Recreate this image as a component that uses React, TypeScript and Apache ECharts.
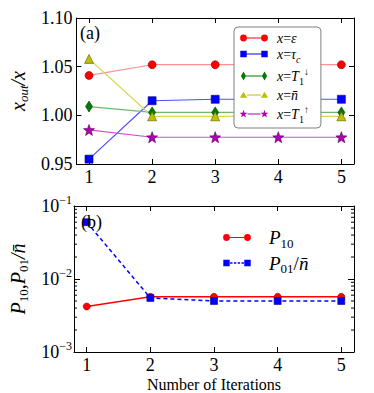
import React, { useEffect, useRef } from "react";
import * as echarts from "echarts";

// ---------- data ----------
const iterations = [1, 2, 3, 4, 5];
const xTickValues = [1, 2, 3, 4, 5];

const seriesNamesA = ["eps", "tauc", "t1down", "nbar", "t1up"];
const ratioEps = [1.041, 1.052, 1.052, 1.052, 1.052];
const ratioTauC = [0.955, 1.015, 1.0165, 1.0165, 1.0165];
const ratioT1Down = [1.009, 1.003, 1.003, 1.003, 1.003];
const ratioNbar = [1.058, 0.999, 0.999, 0.999, 0.999];
const ratioT1Up = [0.985, 0.9775, 0.9775, 0.9775, 0.9775];

const seriesNamesB = ["p10", "p01"];
const probP10 = [0.0042, 0.0057, 0.0057, 0.0057, 0.0057];
const probP01 = [0.06, 0.0055, 0.005, 0.005, 0.005];

const yMinA = 0.95;
const yMaxA = 1.1;
const yIntervalA = 0.05;
const logMinB = 0.001;
const logMaxB = 0.1;
const logMinorB = [
  0.002, 0.003, 0.004, 0.005, 0.006, 0.007, 0.008, 0.009,
  0.02, 0.03, 0.04, 0.05, 0.06, 0.07, 0.08, 0.09,
];

const legendLabelsA: Record<string, string> = {
  eps: "{i|x}{r|=}{i|ε}",
  tauc: "{i|x}{r|=}{i|τ}{sbi|c}",
  t1down: "{i|x}{r|=}{i|T}{sb|1}{sp|↓}",
  nbar: "{i|x}{r|=}{i|n̄}",
  t1up: "{i|x}{r|=}{i|T}{sb|1}{sp|↑}",
};
const legendLabelsB: Record<string, string> = {
  p10: "{I|P}{S|10}",
  p01: "{I|P}{S|01}{R|/}{I|n̄}",
};

// ---------- styling helpers ----------
const SERIF = "Liberation Serif";

function starPoints(cx: number, cy: number, ro: number, ri: number) {
  const pts: string[] = [];
  for (let k = 0; k < 10; k++) {
    const r = k % 2 === 0 ? ro : ri;
    const a = -Math.PI / 2 + (k * Math.PI) / 5;
    pts.push(`${(cx + r * Math.cos(a)).toFixed(2)},${(cy + r * Math.sin(a)).toFixed(2)}`);
  }
  return "M" + pts.join("L") + "Z";
}
const STAR = "path://" + starPoints(50, 50, 50, 21);

// icon box 300 x 110 (itemWidth 30, itemHeight 11)
const IW = 300;
const IH = 110;
const CY = 55;
const anchors = `M0,0L1,0L1,1Z M${IW - 1},${IH - 1}L${IW},${IH - 1}L${IW},${IH}Z`;
function shapeAt(kind: string, cx: number) {
  switch (kind) {
    case "circle":
      return `M${cx - 34},${CY}a34,34 0 1,0 68,0a34,34 0 1,0 -68,0Z`;
    case "rect":
      return `M${cx - 32},${CY - 32}h64v64h-64Z`;
    case "diamond":
      return `M${cx},${CY - 46}L${cx + 26},${CY}L${cx},${CY + 46}L${cx - 26},${CY}Z`;
    case "triangle":
      return `M${cx},${CY - 32}L${cx + 36},${CY + 28}L${cx - 36},${CY + 28}Z`;
    default:
      return starPoints(cx, CY, 42, 17);
  }
}
const halfW: Record<string, number> = { circle: 34, rect: 32, diamond: 26, triangle: 36, star: 40 };
function legendIcon(kind: string, dashed = false) {
  const c1 = 45;
  const c2 = IW - 45;
  const a = c1 + halfW[kind];
  const b = c2 - halfW[kind];
  let line = "";
  if (!dashed) {
    line = `M${a},${CY - 6}H${b}V${CY + 6}H${a}Z`;
  } else {
    const seg = 24;
    const gap = 14;
    for (let x = a + 4; x < b - 4; x += seg + gap) {
      const e = Math.min(x + seg, b - 4);
      line += `M${x},${CY - 7}H${e}V${CY + 7}H${x}Z`;
    }
  }
  return "path://" + anchors + shapeAt(kind, c1) + line + shapeAt(kind, c2);
}

const richA = {
  i: { fontFamily: SERIF, fontStyle: "italic", fontSize: 14, lineHeight: 20, color: "#000" },
  r: { fontFamily: SERIF, fontSize: 14, lineHeight: 20, color: "#000" },
  sb: { fontFamily: SERIF, fontSize: 10, verticalAlign: "bottom", color: "#000" },
  sbi: { fontFamily: SERIF, fontStyle: "italic", fontSize: 10, verticalAlign: "bottom", color: "#000" },
  sp: { fontFamily: SERIF, fontSize: 10, verticalAlign: "top", color: "#000" },
};
const richB = {
  I: { fontFamily: SERIF, fontStyle: "italic", fontSize: 19, lineHeight: 24, color: "#000" },
  R: { fontFamily: SERIF, fontSize: 19, lineHeight: 24, color: "#000" },
  S: { fontFamily: SERIF, fontSize: 13, verticalAlign: "bottom", color: "#000" },
};
const richAxisName = {
  i: { fontFamily: SERIF, fontStyle: "italic", fontSize: 20, lineHeight: 24, color: "#000" },
  r: { fontFamily: SERIF, fontSize: 20, lineHeight: 24, color: "#000" },
  s: { fontFamily: SERIF, fontStyle: "italic", fontSize: 13, verticalAlign: "bottom", color: "#000" },
  su: { fontFamily: SERIF, fontSize: 13, verticalAlign: "bottom", color: "#000" },
};
const richLog = {
  b: { fontFamily: SERIF, fontSize: 18, lineHeight: 24, color: "#000" },
  p: { fontFamily: SERIF, fontSize: 12, verticalAlign: "top", color: "#000" },
};

const BLACK = "#000";
const baseXAxis = (gridIndex: number, position: "top" | "bottom", labels: boolean) => ({
  gridIndex,
  type: "value",
  min: 0.8,
  max: 5.2,
  position,
  axisLine: { show: true, onZero: false, lineStyle: { color: BLACK, width: 1 } },
  axisTick: { show: true, inside: true, length: 5, customValues: xTickValues, lineStyle: { color: BLACK } },
  axisLabel: {
    show: labels,
    customValues: xTickValues,
    fontSize: 18,
    fontFamily: SERIF,
    color: BLACK,
    margin: 4,
  },
  splitLine: { show: false },
});

function pairs(vals: number[]) {
  return iterations.map((x, k) => [x, vals[k]]);
}

const noEdge = { borderWidth: 0 };

export default function App() {
  const ref = useRef<HTMLDivElement>(null);
  useEffect(() => {
    document.body.style.margin = "0";
    if (!ref.current) return;
    const chart = echarts.init(ref.current, null, { renderer: "svg" });

    const topSeries = [
      { name: "eps", vals: ratioEps, symbol: "circle", size: 8, color: "#ff0000", edge: "#8a0000", line: "#ff9090", kind: "circle" },
      { name: "tauc", vals: ratioTauC, symbol: "rect", size: 8, color: "#0000ff", edge: "#00008a", line: "#5050ff", kind: "rect" },
      { name: "t1down", vals: ratioT1Down, symbol: "diamond", size: [7, 11], color: "#007a00", edge: "#004000", line: "#70b870", kind: "diamond" },
      { name: "nbar", vals: ratioNbar, symbol: "triangle", size: 9, color: "#bfbf00", edge: "#5a5a00", line: "#d6d650", kind: "triangle" },
      { name: "t1up", vals: ratioT1Up, symbol: STAR, size: 11, color: "#b000b0", edge: "#500050", line: "#d050d0", kind: "star" },
    ];

    const option: any = {
      animation: false,
      backgroundColor: "#fff",
      textStyle: { fontFamily: SERIF },
      grid: [
        { left: 68, top: 18, width: 286, height: 146 },
        { left: 68, top: 206, width: 286, height: 147 },
      ],
      xAxis: [
        baseXAxis(0, "bottom", true),
        baseXAxis(0, "top", false),
        {
          ...baseXAxis(1, "bottom", true),
          name: "Number of Iterations",
          nameLocation: "middle",
          nameGap: 24,
          nameTextStyle: { fontFamily: SERIF, fontSize: 16, color: BLACK },
        },
        baseXAxis(1, "top", false),
      ],
      yAxis: [
        {
          gridIndex: 0,
          type: "value",
          min: yMinA,
          max: yMaxA,
          interval: yIntervalA,
          position: "left",
          axisLine: { show: true, onZero: false, lineStyle: { color: BLACK } },
          axisTick: { show: true, inside: true, length: 5, lineStyle: { color: BLACK } },
          axisLabel: {
            formatter: (v: number) => v.toFixed(2),
            fontSize: 18,
            fontFamily: SERIF,
            color: BLACK,
            margin: 4,
          },
          splitLine: { show: false },
          name: "{i|x}{s|out}{i|/x}",
          nameLocation: "middle",
          nameRotate: 90,
          nameGap: 38,
          nameTextStyle: { rich: richAxisName },
        },
        {
          gridIndex: 0,
          type: "value",
          min: yMinA,
          max: yMaxA,
          interval: yIntervalA,
          position: "right",
          axisLine: { show: true, onZero: false, lineStyle: { color: BLACK } },
          axisTick: { show: true, inside: true, length: 5, lineStyle: { color: BLACK } },
          axisLabel: { show: false },
          splitLine: { show: false },
        },
        {
          gridIndex: 1,
          type: "log",
          logBase: 10,
          min: logMinB,
          max: logMaxB,
          position: "left",
          axisLine: { show: true, onZero: false, lineStyle: { color: BLACK } },
          axisTick: { show: true, inside: true, length: 6, lineStyle: { color: BLACK } },
          axisLabel: {
            formatter: (v: number) => `{b|10}{p|−${-Math.round(Math.log10(v))}}`,
            rich: richLog,
            margin: 2,
          },
          splitLine: { show: false },
          name: "{i|P}{su|10}{r|,}{i|P}{su|01}{i|/n̄}",
          nameLocation: "middle",
          nameRotate: 90,
          nameGap: 44,
          nameTextStyle: { rich: richAxisName },
        },
        {
          gridIndex: 1,
          type: "log",
          logBase: 10,
          min: logMinB,
          max: logMaxB,
          position: "right",
          axisLine: { show: true, onZero: false, lineStyle: { color: BLACK } },
          axisTick: { show: true, inside: true, length: 6, lineStyle: { color: BLACK } },
          axisLabel: { show: false },
          splitLine: { show: false },
        },
      ],
      legend: [
        {
          data: [
            { name: "eps", icon: legendIcon("circle"), itemStyle: noEdge },
            { name: "tauc", icon: legendIcon("rect"), itemStyle: noEdge },
            { name: "t1down", icon: legendIcon("diamond"), itemStyle: noEdge },
            { name: "nbar", icon: legendIcon("triangle"), itemStyle: noEdge },
            { name: "t1up", icon: legendIcon("star"), itemStyle: noEdge },
          ].filter((d) => seriesNamesA.includes(d.name)),
          orient: "vertical",
          left: 234,
          top: 27,
          itemWidth: 30,
          itemHeight: 11,
          itemGap: 2,
          padding: [4, 12, 4, 5],
          backgroundColor: "#fff",
          borderColor: "#808080",
          borderWidth: 1,
          borderRadius: 4,
          selectedMode: false,
          formatter: (n: string) => legendLabelsA[n],
          textStyle: { rich: richA, padding: [0, 0, 0, 3] },
        },
        {
          data: [
            { name: "p10", icon: legendIcon("circle"), itemStyle: noEdge },
            { name: "p01", icon: legendIcon("rect", true), itemStyle: noEdge },
          ].filter((d) => seriesNamesB.includes(d.name)),
          orient: "vertical",
          left: 222,
          top: 228,
          itemWidth: 34,
          itemHeight: 11,
          itemGap: 4,
          padding: 0,
          selectedMode: false,
          formatter: (n: string) => legendLabelsB[n],
          textStyle: { rich: richB, padding: [0, 0, 0, 10] },
        },
      ],
      series: [
        ...topSeries.map((s) => ({
          name: s.name,
          type: "line",
          xAxisIndex: 0,
          yAxisIndex: 0,
          data: pairs(s.vals),
          symbol: s.symbol,
          symbolSize: s.size,
          itemStyle: { color: s.color, borderColor: s.edge, borderWidth: 0.6 },
          lineStyle: { color: s.line, width: 1.2 },
          z: 3,
        })),
        {
          name: "p10",
          type: "line",
          xAxisIndex: 2,
          yAxisIndex: 2,
          data: pairs(probP10),
          symbol: "circle",
          symbolSize: 7,
          itemStyle: { color: "#ff0000", borderColor: "#8a0000", borderWidth: 0.6 },
          lineStyle: { color: "#ff0000", width: 1.5 },
          z: 3,
        },
        {
          name: "p01",
          type: "line",
          xAxisIndex: 2,
          yAxisIndex: 2,
          data: pairs(probP01),
          symbol: "rect",
          symbolSize: 7,
          itemStyle: { color: "#0000ff", borderColor: "#00008a", borderWidth: 0.6 },
          lineStyle: { color: "#0000ff", width: 1.5, type: [4, 3] },
          z: 3,
        },
      ],
    };
    chart.setOption(option);

    // minor ticks of the log axis, positioned through the library's scale
    const xl = chart.convertToPixel({ xAxisIndex: 2 }, 0.8) as number;
    const xr = chart.convertToPixel({ xAxisIndex: 2 }, 5.2) as number;
    const graphics: any[] = [];
    logMinorB.forEach((v) => {
      const y = chart.convertToPixel({ yAxisIndex: 2 }, v) as number;
      graphics.push({ type: "line", silent: true, shape: { x1: xl, y1: y, x2: xl + 3, y2: y }, style: { stroke: BLACK, lineWidth: 1 } });
      graphics.push({ type: "line", silent: true, shape: { x1: xr - 3, y1: y, x2: xr, y2: y }, style: { stroke: BLACK, lineWidth: 1 } });
    });
    graphics.push({ type: "text", left: 80, top: 24, style: { text: "(a)", fontFamily: SERIF, fontSize: 18, fill: BLACK } });
    graphics.push({ type: "text", left: 81, top: 213, style: { text: "(b)", fontFamily: SERIF, fontSize: 18, fill: BLACK }, z: 10 });
    chart.setOption({ graphic: graphics });

    return () => chart.dispose();
  }, []);
  return <div ref={ref} style={{ width: 374, height: 393 }} />;
}
